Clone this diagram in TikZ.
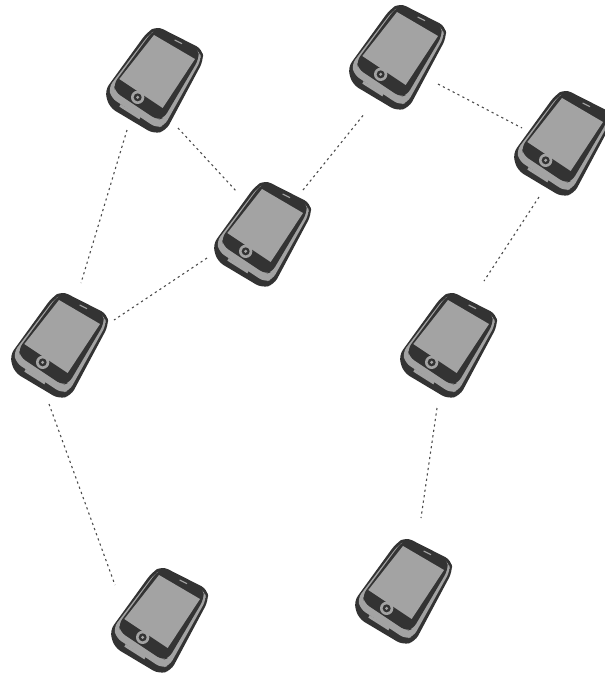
\documentclass[tikz,border=0pt]{standalone}
\definecolor{phonedark}{HTML}{333333}
\definecolor{phonegray}{HTML}{A3A3A3}
\tikzset{
  link/.style={draw=black!70,line width=1.1pt,dash pattern=on 2.2pt off 3.3pt},
  phone/.pic={
    \begin{scope}[x=.3333pt,y=-.3333pt,shift={(-192,-210)}]
      \fill[phonedark,rounded corners=7pt] (200,48)--(338,118)--(340,152)--(228,362)--(192,372)--(58,292)--(44,242)--(170,68)--cycle;
      \fill[phonegray,rounded corners=6pt] (200,60)--(331,125)--(333,150)--(224,346)--(200,354)--(64,264)--(56,232)--(178,72)--cycle;
      \fill[phonedark,rounded corners=6pt] (204,56)--(326,118)--(326,148)--(222,324)--(202,330)--(76,246)--(71,222)--(184,68)--cycle;
      \fill[phonegray] (192,75)--(315,147)--(218,294)--(88,207)--cycle;
      \fill[phonegray] (143,262) circle[radius=20];
      \fill[phonedark] (143,262) circle[radius=12];
      \fill[phonegray] (143,262) circle[radius=5];
      \draw[phonegray,line width=1.2pt] (254,90)--(276,101);
      \fill[phonegray] (92,282)--(152,320)--(148,328)--(88,290)--cycle;
    \end{scope}
  }
}
\begin{document}
\begin{tikzpicture}[x=1pt,y=-1pt]
\useasboundingbox (0,0) rectangle (605,675);
\fill[white] (0,0) rectangle (605,675);
\pic (p1) at (154,80) {phone};
\pic (p2) at (397,57) {phone};
\pic (p3) at (562,143) {phone};
\pic (p4) at (262,234) {phone};
\pic (p5) at (59,345) {phone};
\pic (p6) at (448,345) {phone};
\pic (p7) at (159,620) {phone};
\pic (p8) at (403,591) {phone};
\coordinate (a1) at (127,130); \coordinate (b1) at (81,283);
\coordinate (a2) at (178,128); \coordinate (b2) at (237,192);
\coordinate (a3) at (303,190); \coordinate (b3) at (365,113);
\coordinate (a4) at (438,84);  \coordinate (b4) at (522,128);
\coordinate (a5) at (207,258); \coordinate (b5) at (114,320);
\coordinate (a6) at (539,197); \coordinate (b6) at (484,281);
\coordinate (a7) at (49,404);  \coordinate (b7) at (115,585);
\coordinate (a8) at (437,408); \coordinate (b8) at (421,518);
\draw[link] (a1)--(b1);
\draw[link] (a2)--(b2);
\draw[link] (a3)--(b3);
\draw[link] (a4)--(b4);
\draw[link] (a5)--(b5);
\draw[link] (a6)--(b6);
\draw[link] (a7)--(b7);
\draw[link] (a8)--(b8);
\end{tikzpicture}
\end{document}
